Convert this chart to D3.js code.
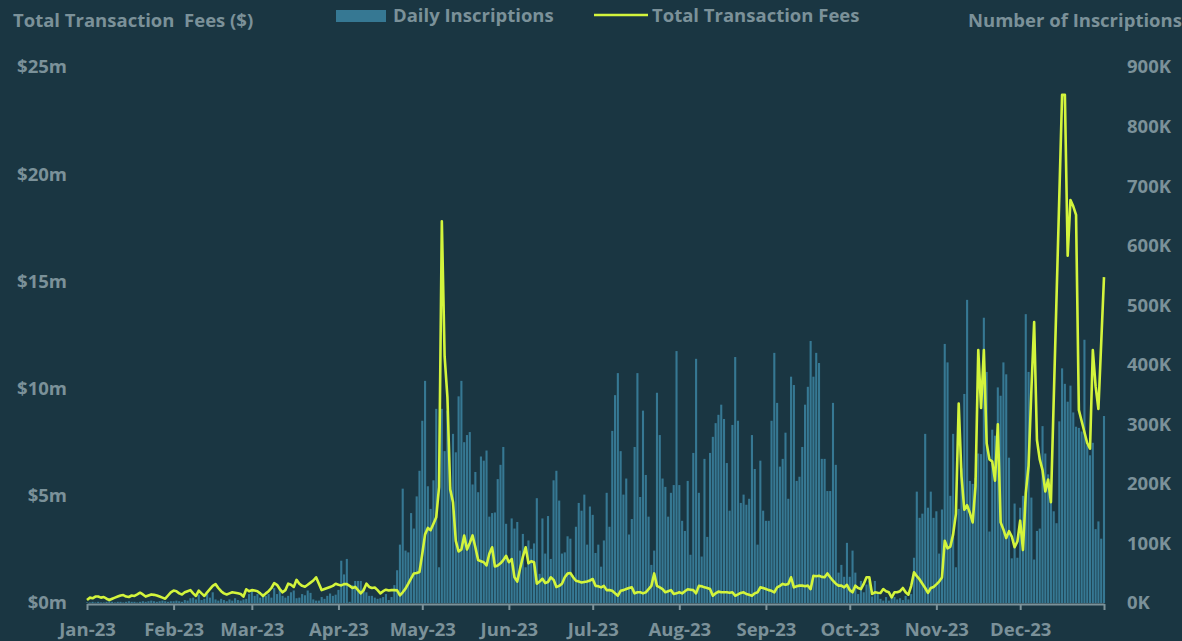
<!DOCTYPE html>
<html>
<head>
<meta charset="utf-8">
<script src="https://cdn.jsdelivr.net/npm/d3@7"></script>
<style>
  html, body { margin: 0; padding: 0; background: #1a3642; }
  svg text { font-family: "Open Sans", sans-serif; font-weight: 700; fill: #7b9199; }
</style>
</head>
<body>
<svg id="chart"></svg>
<script>
// daily inscriptions (thousands), one row per month of 2023
var inscriptionsK = [
  1,1,2,1,2,1,1,2,3,2,1,2,2,1,2,3,2,2,1,2,3,2,3,4,3,2,3,4,3,2,3,
  3,4,3,2,5,4,8,9,6,14,5,7,16,9,18,6,4,7,5,3,6,4,8,5,4,6,7,15,
  23,12,15,9,16,12,15,9,25,15,23,12,9,12,18,21,8,9,15,13,21,17,6,4,4,10,7,12,16,12,14,
  22,71,48,74,2,30,37,37,37,25,18,12,12,9,7,8,10,15,5,10,30,55,98,192,88,85,151,125,179,222,
  306,373,196,158,206,326,60,326,255,323,195,284,253,347,373,270,282,287,199,220,186,246,239,256,145,151,152,208,232,262,133,
  71,142,125,136,88,116,60,105,91,100,176,49,142,83,146,74,206,222,172,83,85,112,108,46,128,168,155,182,98,162,
  148,84,98,61,105,185,128,289,349,386,255,182,209,115,141,262,386,178,323,215,145,64,88,353,282,209,195,145,185,198,423,
  198,138,121,205,81,252,410,185,78,242,111,252,279,302,316,333,309,235,155,299,413,306,168,182,165,175,282,225,98,239,155,
  138,138,306,420,336,229,242,286,175,380,366,205,212,262,333,363,440,380,420,403,242,242,188,188,336,232,51,64,44,101,
  44,88,51,15,37,18,31,37,11,37,15,7,4,10,4,12,10,6,8,5,12,6,15,76,187,143,150,284,160,187,143,
  154,83,157,435,404,180,284,60,158,226,351,509,205,200,210,251,250,479,388,120,291,281,362,348,404,384,244,75,167,76,
  160,180,485,388,177,73,121,125,297,251,216,173,154,134,305,394,368,338,365,320,296,294,288,442,265,248,269,124,137,108,314
];

// daily total transaction fees ($ millions); null = no value that day
var feesM = [
  0.14,0.25,0.22,0.3,0.3,0.25,0.28,0.2,0.14,0.2,0.25,0.3,0.35,0.37,0.3,0.28,0.35,0.33,0.4,0.48,0.4,0.3,0.35,0.4,0.38,0.35,0.3,0.25,0.2,0.35,0.5,
  0.58,0.55,0.45,0.4,0.5,0.55,0.6,0.45,0.33,0.58,0.45,0.33,0.5,0.65,0.8,0.88,0.7,0.55,0.45,0.4,0.45,0.5,0.48,0.45,0.42,0.3,0.64,0.55,
  0.6,0.58,0.55,0.45,0.33,0.45,0.55,0.7,0.93,0.85,0.65,0.5,0.6,0.9,0.85,0.75,1.08,0.9,0.8,0.76,0.85,0.95,1.05,1.2,0.9,0.6,0.65,0.7,0.75,0.8,0.9,
  0.85,0.82,0.88,0.88,0.8,0.7,0.75,0.6,0.45,0.6,0.9,0.75,0.7,0.72,0.6,0.45,0.55,0.62,0.58,0.6,0.6,0.59,0.36,0.5,0.67,0.9,1.15,1.38,1.4,1.45,
  2.3,3.2,3.5,3.4,3.7,4.0,5.4,17.8,11.5,9.6,5.3,4.7,2.9,2.4,2.5,3.15,2.5,2.8,3.15,2.6,2.0,1.95,1.9,1.75,2.3,2.6,1.7,1.75,1.85,2.0,2.2,
  1.9,2.05,1.2,1.0,1.6,2.15,2.6,1.85,1.95,1.9,0.9,1.0,1.13,0.93,0.98,1.2,1.08,0.75,0.8,0.9,1.2,1.37,1.4,1.2,1.04,1.0,0.96,0.98,1.0,1.05,
  1.12,0.8,0.78,0.73,0.8,0.6,0.6,0.57,0.45,0.34,0.57,0.6,0.65,0.7,0.73,0.45,0.5,0.5,0.45,0.5,0.65,0.8,1.38,0.8,0.73,0.65,0.5,0.55,0.6,0.42,0.45,
  0.5,0.45,0.55,0.64,0.62,0.6,0.45,0.8,0.78,0.73,0.7,0.65,0.34,0.45,0.53,0.5,0.5,0.5,0.48,0.5,0.34,0.4,0.47,0.5,0.42,0.38,0.34,0.45,0.5,0.73,0.7,
  0.65,0.6,0.57,0.5,0.73,0.8,0.89,0.85,0.89,1.2,0.73,0.78,0.81,0.81,0.78,0.81,0.65,1.27,1.25,1.27,1.22,1.2,1.38,1.2,1.04,0.9,0.81,0.81,0.73,0.85,
  0.6,0.5,0.81,0.7,0.65,0.89,1.2,1.2,0.42,0.5,0.48,0.47,0.65,0.55,0.5,0.26,0.5,0.5,0.55,0.7,0.5,0.39,0.8,1.43,1.25,1.1,0.9,0.7,0.47,0.7,0.75,
  0.87,1.0,1.19,2.9,2.55,2.63,3.2,4.16,9.3,5.9,4.35,4.56,4.2,3.76,5.44,11.8,9.1,11.8,7.45,6.7,6.6,5.7,8.33,3.76,3.43,3.03,3.35,3.1,2.6,2.87,
  3.84,2.47,5.12,6.4,9.9,13.1,7.6,6.7,6.2,5.2,5.76,4.7,null,null,null,23.7,23.7,16.2,18.8,18.5,18.1,9.0,null,null,7.45,7.2,11.8,10.1,9.05,null,15.2
];

var feeTicks = [0, 5, 10, 15, 20, 25];
var inscTicks = [0, 100, 200, 300, 400, 500, 600, 700, 800, 900];

var W = 1182, H = 641;
var barColor = "#367893";
var lineColor = "#d3f43c";
var textColor = "#7b9199";
var fontSize = "18.5px";

var start = new Date(2023, 0, 1);
var end = new Date(2023, 11, 31);
var days = inscriptionsK.map(function(v, i) { return d3.timeDay.offset(start, i); });

var svg = d3.select("#chart").attr("width", W).attr("height", H);

var x = d3.scaleTime().domain([start, end]).range([87, 1104]);
var yFee = d3.scaleLinear().domain([0, 25]).range([603, 67]);
var yInsc = d3.scaleLinear().domain([0, 900]).range([603, 67]);

// bars
var barW = 2.1;
svg.append("g").selectAll("rect")
  .data(inscriptionsK)
  .enter().append("rect")
  .attr("x", function(d, i) { return x(days[i]) - barW / 2; })
  .attr("y", function(d) { return yInsc(d); })
  .attr("width", barW)
  .attr("height", function(d) { return yInsc(0) - yInsc(d); })
  .attr("fill", barColor);

// fees line (missing days are skipped, line joins across them)
var feePts = feesM.map(function(v, i) { return [days[i], v]; })
  .filter(function(p) { return p[1] !== null; });

svg.append("path")
  .datum(feePts)
  .attr("fill", "none")
  .attr("stroke", lineColor)
  .attr("stroke-width", 2.6)
  .attr("stroke-linejoin", "round")
  .attr("d", d3.line()
    .x(function(p) { return x(p[0]); })
    .y(function(p) { return yFee(p[1]); }));

// bottom axis
var monthTicks = d3.timeMonth.range(start, d3.timeDay.offset(end, 1)).concat([end]);
var fmt = d3.timeFormat("%b-%y");
var xAxis = svg.append("g")
  .attr("transform", "translate(0,604)")
  .call(d3.axisBottom(x)
    .tickValues(monthTicks)
    .tickSizeInner(6)
    .tickSizeOuter(0)
    .tickFormat(function(d) { return +d === +end ? "" : fmt(d); }));
xAxis.select(".domain").attr("stroke", "#7d9299").attr("stroke-width", 2);
xAxis.selectAll(".tick line").attr("stroke", "#7d9299").attr("stroke-width", 2);
xAxis.selectAll(".tick text")
  .attr("y", 19)
  .style("font-size", fontSize)
  .style("fill", textColor);

// left axis
var yl = svg.append("g")
  .attr("transform", "translate(67,0)")
  .call(d3.axisLeft(yFee).tickValues(feeTicks).tickSize(0).tickPadding(0)
    .tickFormat(function(d) { return "$" + d + "m"; }));
yl.select(".domain").remove();
yl.selectAll("text").style("font-size", fontSize).style("fill", textColor);

// right axis
var yr = svg.append("g")
  .attr("transform", "translate(1127,0)")
  .call(d3.axisRight(yInsc).tickValues(inscTicks).tickSize(0).tickPadding(0)
    .tickFormat(function(d) { return d + "K"; }));
yr.select(".domain").remove();
yr.selectAll("text").style("font-size", fontSize).style("fill", textColor);

// axis titles
svg.append("text").attr("x", 13).attr("y", 27)
  .style("font-size", fontSize).style("white-space", "pre")
  .text("Total Transaction  Fees ($)");
svg.append("text").attr("x", 968).attr("y", 27)
  .style("font-size", fontSize)
  .text("Number of Inscriptions");

// legend
svg.append("rect").attr("x", 336).attr("y", 10).attr("width", 50).attr("height", 12).attr("fill", barColor);
svg.append("text").attr("x", 393).attr("y", 22).style("font-size", fontSize).text("Daily Inscriptions");
svg.append("line").attr("x1", 594).attr("x2", 648).attr("y1", 15).attr("y2", 15)
  .attr("stroke", lineColor).attr("stroke-width", 2.6);
svg.append("text").attr("x", 652).attr("y", 22).style("font-size", fontSize).text("Total Transaction Fees");
</script>
</body>
</html>
